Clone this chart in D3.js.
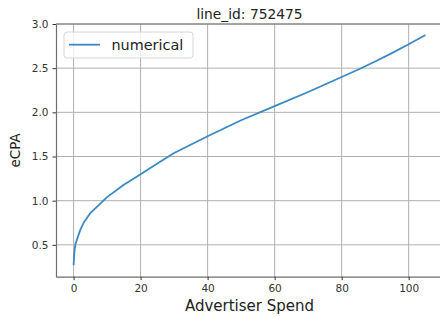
<!DOCTYPE html>
<html>
<head>
<meta charset="utf-8">
<script src="https://cdn.jsdelivr.net/npm/d3@7"></script>
<style>
  body { margin: 0; background: #fff; }
  svg { display: block; font-family: "DejaVu Sans", sans-serif; }
</style>
</head>
<body>
<svg id="chart" width="440" height="317"></svg>
<script>
// Data
const spend = [0, 0.25, 0.5, 1, 2, 3, 5, 10, 15, 20, 25, 30, 40, 50, 60, 70, 80, 85, 90, 95, 100, 105];
const ecpa = [0.27, 0.42, 0.5, 0.56, 0.67, 0.75, 0.86, 1.04, 1.18, 1.30, 1.42, 1.54, 1.73, 1.91, 2.07, 2.23, 2.40, 2.485, 2.575, 2.67, 2.77, 2.875];
const xTicks = [0, 20, 40, 60, 80, 100];
const yTicks = [0.5, 1.0, 1.5, 2.0, 2.5, 3.0];
const seriesName = "numerical";
const title = "line_id: 752475";

const svg = d3.select("#chart");
const margin = { left: 56, top: 24, right: 443, bottom: 276.7 };

const x = d3.scaleLinear().domain([-5.25, 110.25]).range([margin.left, margin.right]);
const y = d3.scaleLinear().domain([0.1395, 3.0]).range([margin.bottom, margin.top]);

const grid = svg.append("g").attr("stroke", "#b0b0b0").attr("stroke-width", 1);
// Vertical grid
grid.selectAll(".vx").data(xTicks).enter().append("line")
  .attr("x1", d => x(d)).attr("x2", d => x(d))
  .attr("y1", margin.top).attr("y2", margin.bottom);
// Horizontal grid
grid.selectAll(".hy").data(yTicks).enter().append("line")
  .attr("x1", margin.left).attr("x2", margin.right)
  .attr("y1", d => y(d)).attr("y2", d => y(d));

// Line
const pts = spend.map((s, i) => [s, ecpa[i]]);
svg.append("path")
  .datum(pts)
  .attr("fill", "none")
  .attr("stroke", "#3a89c2")
  .attr("stroke-width", 1.8)
  .attr("stroke-linejoin", "round")
  .attr("d", d3.line().x(d => x(d[0])).y(d => y(d[1])));

// Axes
const xAxis = svg.append("g")
  .attr("transform", `translate(0,${margin.bottom})`)
  .call(d3.axisBottom(x).tickValues(xTicks).tickSizeInner(3.5).tickSizeOuter(0).tickPadding(4).tickFormat(d3.format("d")));
const yAxis = svg.append("g")
  .attr("transform", `translate(${margin.left},0)`)
  .call(d3.axisLeft(y).tickValues(yTicks).tickSizeInner(3.5).tickSizeOuter(0).tickPadding(4).tickFormat(d3.format(".1f")));

[xAxis, yAxis].forEach(a => {
  a.select(".domain").attr("stroke", "#6e6e6e").attr("stroke-width", 1.2);
  a.selectAll(".tick line").attr("stroke", "#333");
  a.selectAll(".tick text").attr("fill", "#333").style("font-size", "10.5px").style("font-family", "DejaVu Sans");
});

// Top spine
svg.append("line")
  .attr("x1", margin.left).attr("x2", margin.right)
  .attr("y1", margin.top).attr("y2", margin.top)
  .attr("stroke", "#6e6e6e").attr("stroke-width", 1.2);

// Title
svg.append("text")
  .attr("x", (margin.left + margin.right) / 2)
  .attr("y", 19)
  .attr("text-anchor", "middle")
  .attr("fill", "#222")
  .style("font-size", "13.8px")
  .text(title);

// Axis labels
svg.append("text")
  .attr("x", (margin.left + margin.right) / 2)
  .attr("y", 311)
  .attr("text-anchor", "middle")
  .attr("fill", "#222")
  .style("font-size", "15px")
  .text("Advertiser Spend");

svg.append("text")
  .attr("transform", `translate(20,${(margin.top + margin.bottom) / 2}) rotate(-90)`)
  .attr("text-anchor", "middle")
  .attr("fill", "#222")
  .style("font-size", "13.5px")
  .text("eCPA");

// Legend
const legend = svg.append("g");
legend.append("rect")
  .attr("x", 64).attr("y", 32).attr("width", 129).attr("height", 26)
  .attr("rx", 3).attr("fill", "#fff").attr("fill-opacity", 0.8)
  .attr("stroke", "#d6d6d6");
legend.append("line")
  .attr("x1", 69).attr("x2", 100).attr("y1", 44.7).attr("y2", 44.7)
  .attr("stroke", "#3a89c2").attr("stroke-width", 1.8);
legend.append("text")
  .attr("x", 111.5).attr("y", 50)
  .attr("fill", "#222")
  .style("font-size", "14.4px")
  .text(seriesName);
</script>
</body>
</html>
